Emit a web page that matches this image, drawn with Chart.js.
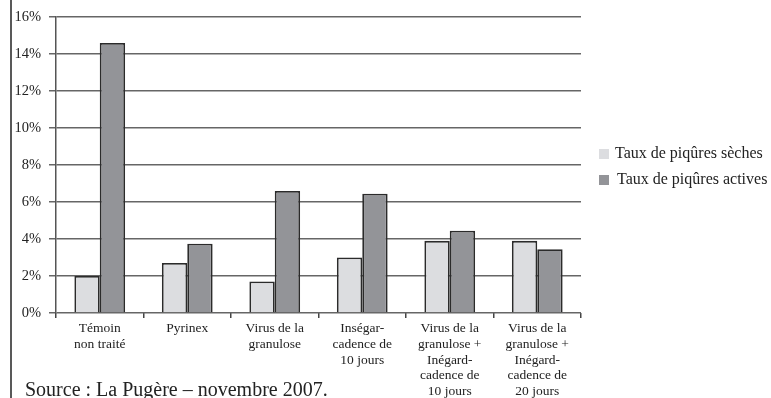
<!DOCTYPE html>
<html><head><meta charset="utf-8">
<script src="https://cdn.jsdelivr.net/npm/chart.js@4"></script>
<style>html,body{margin:0;padding:0;background:#fff}#wrap{width:771px;height:398px;position:relative}</style>
</head><body><div id="wrap"><canvas id="c" width="771" height="398"></canvas></div>
<script>
const categories = [
  ["Témoin", "non traité"],
  ["Pyrinex"],
  ["Virus de la", "granulose"],
  ["Inségar-", "cadence de", "10 jours"],
  ["Virus de la", "granulose +", "Inégard-", "cadence de", "10 jours"],
  ["Virus de la", "granulose +", "Inégard-", "cadence de", "20 jours"]
];
const seriesNames = ["Taux de piqûres sèches", "Taux de piqûres actives"];
const sechesValues = [2.0, 2.7, 1.7, 3.0, 3.9, 3.9];
const activesValues = [14.6, 3.75, 6.6, 6.45, 4.45, 3.45];
const yTicks = [0, 2, 4, 6, 8, 10, 12, 14, 16];
const sourceText = "Source : La Pugère – novembre 2007.";

const SERIF = "'Liberation Serif', 'Times New Roman', serif";
const colors = ["#dcdde0", "#939498"];

const extras = {
  id: 'extras',
  afterDraw(chart) {
    const ctx = chart.ctx;
    ctx.save();
    // page border line
    ctx.strokeStyle = '#222';
    ctx.lineWidth = 1.5;
    ctx.beginPath(); ctx.moveTo(11, 0); ctx.lineTo(11, 398); ctx.stroke();
    // legend
    ctx.font = "16px " + SERIF;
    ctx.textBaseline = 'middle';
    const ys = [154, 180];
    const xs = [615, 617];
    chart.data.datasets.forEach((ds, i) => {
      ctx.fillStyle = ds.backgroundColor;
      ctx.fillRect(599, ys[i] - 5, 10, 10);
      ctx.fillStyle = '#222';
      ctx.fillText(ds.label, xs[i], ys[i]);
    });
    // source
    ctx.font = "20px " + SERIF;
    ctx.textBaseline = 'alphabetic';
    ctx.fillText(sourceText, 25, 396);
    ctx.restore();
  }
};

new Chart(document.getElementById('c'), {
  type: 'bar',
  data: {
    labels: categories,
    datasets: [
      { label: seriesNames[0], data: sechesValues, backgroundColor: colors[0], borderColor: '#2b2b2b', borderWidth: 1.8 },
      { label: seriesNames[1], data: activesValues, backgroundColor: colors[1], borderColor: '#2b2b2b', borderWidth: 1.8 }
    ]
  },
  options: {
    responsive: false,
    animation: false,
    layout: { padding: { left: 10, right: 190, top: 17, bottom: 0 } },
    plugins: { legend: { display: false }, tooltip: { enabled: false } },
    datasets: { bar: { categoryPercentage: 0.58, barPercentage: 1.0 } },
    scales: {
      x: {
        grid: { drawOnChartArea: false, drawTicks: true, tickLength: 5, color: '#444', lineWidth: 1.5, offset: true },
        border: { display: false },
        ticks: { color: '#222', font: { family: SERIF, size: 13.5, lineHeight: 1.16 }, padding: 3, maxRotation: 0, autoSkip: false },
        afterFit(s) { s.height = 85; }
      },
      y: {
        min: 0, max: 16,
        afterBuildTicks(s) { s.ticks = yTicks.map(v => ({ value: v })); },
        grid: { color: '#666', lineWidth: 1.5, drawTicks: true, tickLength: 7 },
        border: { display: true, color: '#555', width: 1.5 },
        ticks: { color: '#222', font: { family: SERIF, size: 14.5 }, padding: 8, callback: v => v + '%' },
        afterFit(s) { s.width = 46; }
      }
    }
  },
  plugins: [extras]
});
</script></body></html>
